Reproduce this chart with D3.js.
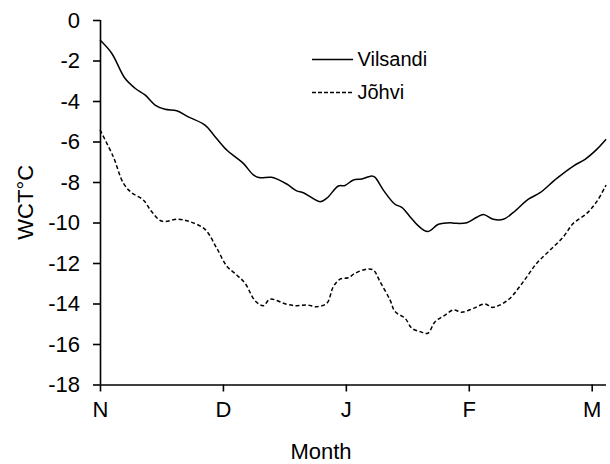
<!DOCTYPE html>
<html>
<head>
<meta charset="utf-8">
<script src="https://cdn.jsdelivr.net/npm/d3@7"></script>
<style>
  html, body { margin: 0; padding: 0; background: #fff; }
  svg { display: block; font-family: Arial, "Liberation Sans", sans-serif; }
</style>
</head>
<body>
<svg id="chart" width="610" height="464"></svg>
<script>
// Month position (0 = 1 Nov, 1 = 1 Dec, ... 4 = 1 Mar) for each sample
const vilsandiMonth = [0.000,0.095,0.203,0.285,0.366,0.448,0.529,0.624,0.718,0.854,0.936,1.031,1.098,1.166,1.248,1.302,1.397,1.519,1.600,1.654,1.790,1.845,1.939,1.993,2.061,2.129,2.211,2.238,2.305,2.400,2.455,2.522,2.590,2.666,2.753,2.848,2.889,2.984,3.065,3.119,3.200,3.281,3.363,3.485,3.580,3.716,3.851,3.946,4.041,4.117];
const vilsandiWCT = [-0.99,-1.64,-2.88,-3.37,-3.70,-4.20,-4.41,-4.48,-4.78,-5.19,-5.76,-6.42,-6.75,-7.08,-7.65,-7.79,-7.77,-8.10,-8.44,-8.53,-8.97,-8.80,-8.20,-8.17,-7.90,-7.85,-7.70,-7.77,-8.40,-9.10,-9.25,-9.71,-10.17,-10.45,-10.09,-10.01,-10.04,-10.01,-9.74,-9.60,-9.84,-9.84,-9.50,-8.85,-8.53,-7.82,-7.21,-6.88,-6.39,-5.89];

const johviMonth = [0.000,0.108,0.190,0.258,0.352,0.421,0.502,0.637,0.732,0.854,0.950,1.031,1.112,1.180,1.261,1.329,1.383,1.519,1.600,1.682,1.763,1.845,1.898,1.953,2.018,2.075,2.170,2.224,2.278,2.360,2.400,2.482,2.536,2.604,2.666,2.726,2.807,2.875,2.943,3.037,3.133,3.187,3.255,3.336,3.444,3.553,3.662,3.770,3.851,3.960,4.041,4.117];
const johviWCT = [-5.43,-6.75,-8.06,-8.53,-8.89,-9.47,-9.93,-9.84,-9.96,-10.34,-11.27,-12.15,-12.59,-13.00,-13.86,-14.11,-13.79,-14.04,-14.11,-14.07,-14.16,-13.99,-13.17,-12.80,-12.73,-12.51,-12.30,-12.35,-12.92,-13.83,-14.40,-14.73,-15.22,-15.39,-15.47,-14.90,-14.57,-14.32,-14.43,-14.24,-14.02,-14.19,-14.07,-13.74,-12.92,-12.01,-11.36,-10.70,-10.04,-9.55,-8.97,-8.15];

const monthTicks = [0, 1, 2, 3, 4];
const monthLabels = ["N", "D", "J", "F", "M"];
const yTicks = [0, -2, -4, -6, -8, -10, -12, -14, -16, -18];
const seriesNames = ["Vilsandi", "Jõhvi"];

const svg = d3.select("#chart");
const mLeft = 100, mRight = 606, mTop = 20, mBottom = 384.5;

const x = d3.scaleLinear().domain([0, 4]).range([mLeft, 591.7]);
const y = d3.scaleLinear().domain([0, -18]).range([mTop, mBottom]);

const ink = "#000";
const fontFam = "Arial, 'Liberation Sans', sans-serif";
const fs = 22;

// Y axis
const yAxis = svg.append("g").attr("transform", `translate(${mLeft},0)`)
  .call(d3.axisLeft(y).tickValues(yTicks).tickSize(7).tickPadding(13).tickFormat(d => String(d)));
yAxis.select(".domain").attr("stroke", ink).attr("stroke-width", 1.6).attr("d", `M0.5,${mTop}V${mBottom}`);
yAxis.selectAll(".tick line").attr("stroke", ink).attr("stroke-width", 1.6);
yAxis.selectAll(".tick text").attr("fill", ink).attr("font-size", fs).attr("font-family", fontFam);

// X axis
const xAxis = svg.append("g").attr("transform", `translate(0,${mBottom})`)
  .call(d3.axisBottom(x).tickValues(monthTicks).tickSize(7).tickPadding(10).tickFormat((d, i) => monthLabels[i]));
xAxis.select(".domain").attr("stroke", ink).attr("stroke-width", 1.6).attr("d", `M${mLeft},0.5H${mRight}`);
xAxis.selectAll(".tick line").attr("stroke", ink).attr("stroke-width", 1.6);
xAxis.selectAll(".tick text").attr("fill", ink).attr("font-size", fs).attr("font-family", fontFam);

// Axis titles
svg.append("text").attr("x", 321).attr("y", 459).attr("text-anchor", "middle")
  .attr("font-size", fs).attr("fill", ink).text("Month");
svg.append("text").attr("transform", `translate(33,${(mTop + mBottom) / 2}) rotate(-90)`)
  .attr("text-anchor", "middle").attr("font-size", fs).attr("fill", ink).text("WCT°C");

// Lines
const line = d3.line().x(d => x(d[0])).y(d => y(d[1])).curve(d3.curveCatmullRom.alpha(0.5));
const vData = vilsandiMonth.map((m, i) => [m, vilsandiWCT[i]]);
const jData = johviMonth.map((m, i) => [m, johviWCT[i]]);

svg.append("path").datum(vData).attr("d", line).attr("fill", "none")
  .attr("stroke", ink).attr("stroke-width", 1.5);
svg.append("path").datum(jData).attr("d", line).attr("fill", "none")
  .attr("stroke", ink).attr("stroke-width", 1.5).attr("stroke-dasharray", "4,2.5");

// Legend
const legend = svg.append("g");
const legendRows = [{ name: seriesNames[0], dash: null, yy: 59.5, base: 66 }, { name: seriesNames[1], dash: "4,2", yy: 92.5, base: 99 }];
legendRows.forEach(r => {
  legend.append("line").attr("x1", 312).attr("x2", 353).attr("y1", r.yy).attr("y2", r.yy)
    .attr("stroke", ink).attr("stroke-width", 1.5).attr("stroke-dasharray", r.dash);
  legend.append("text").attr("x", 357.5).attr("y", r.base).attr("font-size", 20).attr("fill", ink).text(r.name);
});
</script>
</body>
</html>
